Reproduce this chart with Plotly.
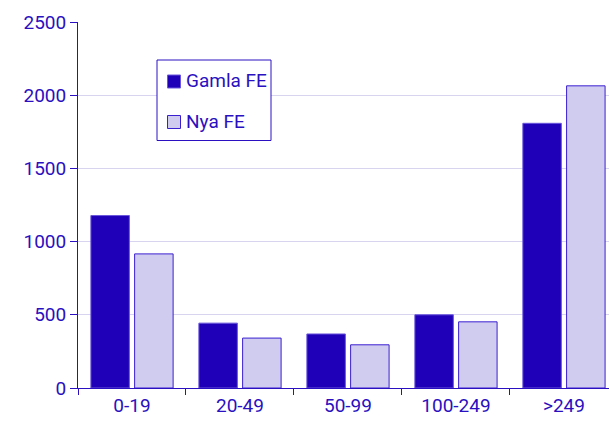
import plotly.graph_objects as go

categories = ["0-19", "20-49", "50-99", "100-249", ">249"]
gamla_fe = [1178, 443, 369, 500, 1808]
nya_fe = [916, 341, 295, 452, 2064]
y_ticks = [0, 500, 1000, 1500, 2000, 2500]
series_names = ["Gamla FE", "Nya FE"]

DARK = "#1F00B8"
LIGHT = "#D0CCF0"
TEXT = "#2A10C0"
DARK_EDGE = "#6A56DC"
LIGHT_EDGE = "#3A1FD0"

fig = go.Figure()
fig.add_trace(go.Bar(x=categories, y=gamla_fe, name=series_names[0],
                     marker=dict(color=DARK, line=dict(color=DARK_EDGE, width=1))))
fig.add_trace(go.Bar(x=categories, y=nya_fe, name=series_names[1],
                     marker=dict(color=LIGHT, line=dict(color=LIGHT_EDGE, width=1))))

# manual legend (box, swatches, labels) in paper coordinates
def px(x):
    return (x - 78) / 531.0

def py(y):
    return (388 - y) / 366.0

shapes = [
    dict(type="rect", xref="paper", yref="paper", x0=px(157), x1=px(271), y0=py(140.5), y1=py(60),
         line=dict(color=TEXT, width=1), fillcolor="white", layer="above"),
    dict(type="rect", xref="paper", yref="paper", x0=px(167.5), x1=px(180.5), y0=py(88), y1=py(75),
         line=dict(color=DARK_EDGE, width=1), fillcolor=DARK, layer="above"),
    dict(type="rect", xref="paper", yref="paper", x0=px(167.5), x1=px(180.5), y0=py(128.5), y1=py(115.5),
         line=dict(color=LIGHT_EDGE, width=1), fillcolor=LIGHT, layer="above"),
]
annotations = [
    dict(xref="paper", yref="paper", x=px(184), y=py(81), text=series_names[0], showarrow=False,
         xanchor="left", yanchor="middle", font=dict(size=19, color=TEXT)),
    dict(xref="paper", yref="paper", x=px(184), y=py(121.5), text=series_names[1], showarrow=False,
         xanchor="left", yanchor="middle", font=dict(size=19, color=TEXT)),
]

fig.update_layout(
    width=609, height=425,
    margin=dict(l=78, r=0, t=22, b=37),
    plot_bgcolor="white", paper_bgcolor="white",
    font=dict(family="Roboto", size=19, color=TEXT),
    barmode="group", bargap=0.19, bargroupgap=0.12,
    showlegend=False,
    shapes=shapes, annotations=annotations,
)
fig.update_xaxes(
    type="category", range=[-0.5, 4.417], automargin=False,
    showline=True, linecolor=TEXT, linewidth=1,
    ticks="outside", tickson="boundaries", ticklen=6, tickcolor=TEXT,
    showgrid=False, tickfont=dict(size=19, color=TEXT),
)
fig.update_yaxes(
    range=[0, 2500], tickvals=y_ticks, automargin=False,
    showline=True, linecolor=TEXT, linewidth=1,
    ticks="outside", ticklen=7, tickcolor=TEXT,
    showgrid=True, gridcolor="#D8D4F0", gridwidth=1,
    zeroline=False, tickfont=dict(size=19, color=TEXT),
)

fig.write_html(
    "out.html",
    config={"displayModeBar": False},
    post_script="document.body.style.margin='0';document.body.style.overflow='hidden';",
)
